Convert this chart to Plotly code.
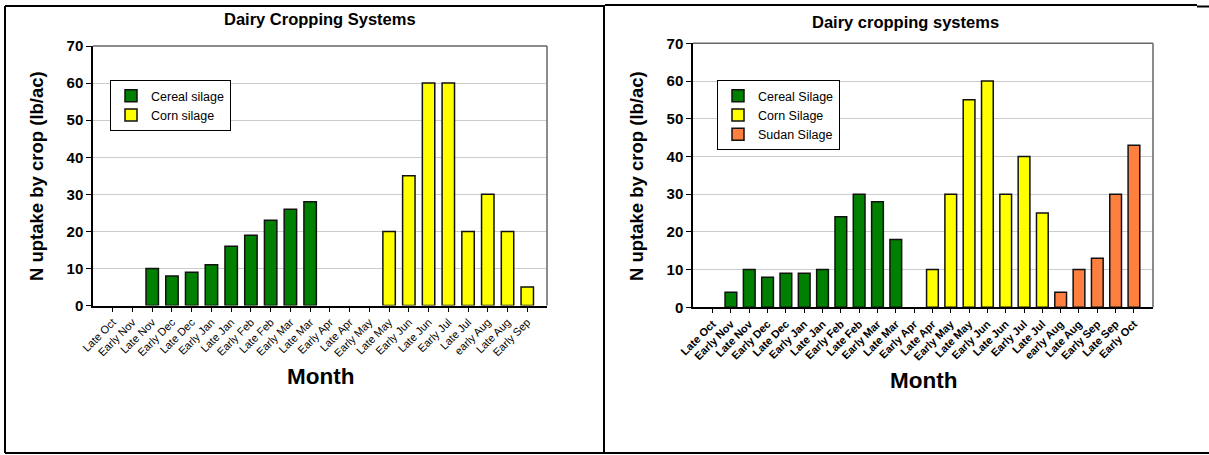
import plotly.graph_objects as go

# full-window figure; the page body margin is removed by a small post script
PAGE_MARGIN = 0
W, H = 1209, 455

# ---------------- data ----------------
left_categories = ["Late Oct", "Early Nov", "Late Nov", "Early Dec", "Late Dec", "Early Jan",
                   "Late Jan", "Early Feb", "Late Feb", "Early Mar", "Late Mar", "Early Apr",
                   "Late Apr", "Early May", "Late May", "Early Jun", "Late Jun", "Early Jul",
                   "Late Jul", "early Aug", "Late Aug", "Early Sep"]
left_cereal = [None, None, 10, 8, 9, 11, 16, 19, 23, 26, 28, None,
               None, None, None, None, None, None, None, None, None, None]
left_corn = [None, None, None, None, None, None, None, None, None, None, None, None,
             None, None, 20, 35, 60, 60, 20, 30, 20, 5]

right_categories = ["Late Oct", "Early Nov", "Late Nov", "Early Dec", "Late Dec", "Early Jan",
                    "Late Jan", "Early Feb", "Late Feb", "Early Mar", "Late Mar", "Early Apr",
                    "Late Apr", "Early May", "Late May", "Early Jun", "Late Jun", "Early Jul",
                    "Late Jul", "early Aug", "Late Aug", "Early Sep", "Late Sep", "Early Oct"]
right_cereal = [None, 4, 10, 8, 9, 9, 10, 24, 30, 28, 18, None,
                None, None, None, None, None, None, None, None, None, None, None, None]
right_corn = [None, None, None, None, None, None, None, None, None, None, None, None,
              10, 30, 55, 60, 30, 40, 25, None, None, None, None, None]
right_sudan = [None, None, None, None, None, None, None, None, None, None, None, None,
               None, None, None, None, None, None, None, 4, 10, 13, 30, 43]

y_ticks = [0, 10, 20, 30, 40, 50, 60, 70]

GREEN = "#008000"
YELLOW = "#FFFF00"
ORANGE = "#FF7F3F"
FONT = "Arial, Liberation Sans, sans-serif"

def px_x(v):
    return min(max((v - PAGE_MARGIN) / W, 0.0), 1.0)

def px_y(v):
    return min(max(1 - (v - PAGE_MARGIN) / H, 0.0), 1.0)

fig = go.Figure()

bar_line = dict(color="#111111", width=1.5)

fig.add_trace(go.Bar(x=left_categories, y=left_cereal, name="Cereal silage",
                     marker=dict(color=GREEN, line=bar_line), width=0.63,
                     xaxis="x", yaxis="y", legend="legend"))
fig.add_trace(go.Bar(x=left_categories, y=left_corn, name="Corn silage",
                     marker=dict(color=YELLOW, line=bar_line), width=0.63,
                     xaxis="x", yaxis="y", legend="legend"))
fig.add_trace(go.Bar(x=right_categories, y=right_cereal, name="Cereal Silage",
                     marker=dict(color=GREEN, line=bar_line), width=0.64,
                     xaxis="x2", yaxis="y2", legend="legend2"))
fig.add_trace(go.Bar(x=right_categories, y=right_corn, name="Corn Silage",
                     marker=dict(color=YELLOW, line=bar_line), width=0.64,
                     xaxis="x2", yaxis="y2", legend="legend2"))
fig.add_trace(go.Bar(x=right_categories, y=right_sudan, name="Sudan Silage",
                     marker=dict(color=ORANGE, line=bar_line), width=0.64,
                     xaxis="x2", yaxis="y2", legend="legend2"))

common_x = dict(type="category", showgrid=False, showline=True, linecolor="black", linewidth=2,
                ticks="outside", ticklen=4, tickcolor="black", tickangle=-45, zeroline=False,
                automargin=False)
common_y = dict(range=[0, 70], tickvals=y_ticks, showgrid=True, gridcolor="#cccccc", gridwidth=1,
                showline=True, linecolor="black", linewidth=1.5, ticks="outside", ticklen=5,
                tickcolor="black", zeroline=False, automargin=False,
                tickfont=dict(family=FONT, size=15, color="black", weight="bold"))

fig.update_layout(
    width=W, height=H,
    margin=dict(l=0, r=0, t=0, b=0, pad=0, autoexpand=False),
    paper_bgcolor="white", plot_bgcolor="white",
    barmode="overlay",
    font=dict(family=FONT, color="black"),
    xaxis=dict(common_x, domain=[px_x(93), px_x(547)], range=[-1.0, 22.0], anchor="y",
               tickfont=dict(family=FONT, size=11, color="black")),
    yaxis=dict(common_y, domain=[px_y(305.6), px_y(46)], anchor="x"),
    xaxis2=dict(common_x, domain=[px_x(693), px_x(1153)], range=[-1.07, 24.04], anchor="y2",
                tickfont=dict(family=FONT, size=11, color="black", weight="bold")),
    yaxis2=dict(common_y, domain=[px_y(307.3), px_y(43.3)], anchor="x2"),
    legend=dict(x=px_x(110), y=px_y(80), xanchor="left", yanchor="top",
                bgcolor="white", bordercolor="black", borderwidth=1,
                font=dict(family=FONT, size=12.5, color="black"), tracegroupgap=0),
    legend2=dict(x=px_x(717), y=px_y(80), xanchor="left", yanchor="top",
                 bgcolor="white", bordercolor="black", borderwidth=1,
                 font=dict(family=FONT, size=12.5, color="black"), tracegroupgap=0),
    showlegend=True,
)

# plot-area frame (top and right sides, gray)
for xd, yd in (("x domain", "y domain"), ("x2 domain", "y2 domain")):
    fig.add_shape(type="line", xref=xd, yref=yd, x0=0, x1=1, y0=1, y1=1,
                  line=dict(color="#666666", width=1.5))
    fig.add_shape(type="line", xref=xd, yref=yd, x0=1, x1=1, y0=0, y1=1,
                  line=dict(color="#666666", width=1.5))

# outer panel frames
frame = dict(color="black", width=2)
fig.add_shape(type="line", xref="paper", yref="paper", x0=px_x(5), x1=px_x(5), y0=px_y(6), y1=px_y(453), line=frame)
fig.add_shape(type="line", xref="paper", yref="paper", x0=px_x(5), x1=px_x(605), y0=px_y(6), y1=px_y(6), line=frame)
fig.add_shape(type="line", xref="paper", yref="paper", x0=px_x(604), x1=px_x(604), y0=px_y(5), y1=px_y(453), line=frame)
fig.add_shape(type="line", xref="paper", yref="paper", x0=px_x(605), x1=px_x(1197), y0=px_y(5), y1=px_y(5), line=frame)
fig.add_shape(type="line", xref="paper", yref="paper", x0=px_x(1197), x1=1, y0=px_y(6.5), y1=px_y(6.5), line=frame)
fig.add_shape(type="line", xref="paper", yref="paper", x0=px_x(5), x1=1, y0=px_y(453), y1=px_y(453), line=frame)

ann = []
ann.append(dict(text="Dairy Cropping Systems", x=px_x(320), y=px_y(19), xref="paper", yref="paper",
                showarrow=False, xanchor="center", yanchor="middle",
                font=dict(family=FONT, size=16.5, color="black", weight="bold")))
ann.append(dict(text="Dairy cropping systems", x=px_x(905), y=px_y(22), xref="paper", yref="paper",
                showarrow=False, xanchor="center", yanchor="middle",
                font=dict(family=FONT, size=16.5, color="black", weight="bold")))
for xc, yc in ((37, 176), (637, 176)):
    ann.append(dict(text="N uptake by crop (lb/ac)", x=px_x(xc), y=px_y(yc), xref="paper", yref="paper",
                    showarrow=False, textangle=-90, xanchor="center", yanchor="middle",
                    font=dict(family=FONT, size=18.5, color="black", weight="bold")))
for xc, yc in ((320, 376), (923, 380)):
    ann.append(dict(text="Month", x=px_x(xc), y=px_y(yc), xref="paper", yref="paper",
                    showarrow=False, xanchor="center", yanchor="middle",
                    font=dict(family=FONT, size=22.5, color="black", weight="bold")))
fig.update_layout(annotations=ann)

fig.write_html("out.html", config={"displayModeBar": False},
               post_script="document.body.style.margin='0px';document.body.style.overflow='hidden';")
